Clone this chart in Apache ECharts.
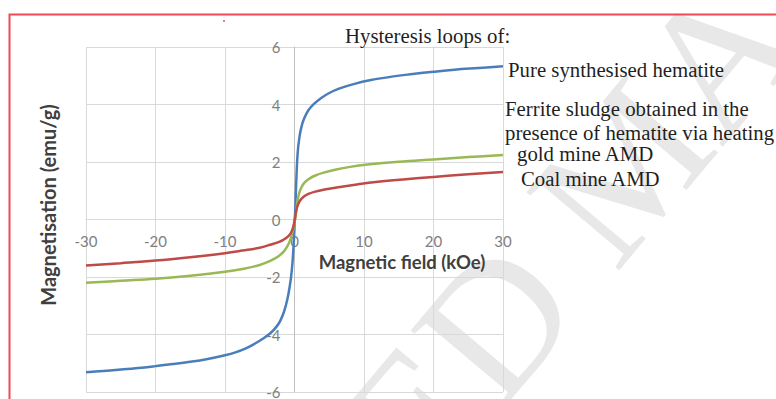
<!DOCTYPE html>
<html><head><meta charset="utf-8">
<script src="https://cdn.jsdelivr.net/npm/echarts@6/dist/echarts.min.js"></script>
<style>html,body{margin:0;padding:0;background:#fff}#c{width:776px;height:399px}</style>
</head><body><div id="c"></div>
<script>
// Tick labels
const xTicks = [-30, -20, -10, 0, 10, 20, 30];
const yTicks = [-6, -4, -2, 0, 2, 4, 6];

// Pure synthesised hematite
const hemField = [-30, -27.5, -25, -22.5, -20, -17.5, -15, -12.5, -10, -8.5, -7, -5.8, -4.5, -3.4, -2.5, -2.0, -1.5, -1.05, -0.7, -0.4, -0.15, 0.05, 0.25, 0.45, 0.7, 1.0, 1.4, 2.0, 2.8, 3.8, 5.0, 6.5, 8.5, 11, 14, 17, 20, 23, 26.5, 30];
const hemMag   = [-5.31, -5.27, -5.22, -5.165, -5.10, -5.03, -4.95, -4.85, -4.72, -4.62, -4.48, -4.33, -4.14, -3.94, -3.70, -3.50, -3.20, -2.80, -2.35, -1.80, -1.00, 0.00, 1.30, 2.30, 2.85, 3.22, 3.52, 3.80, 4.02, 4.22, 4.40, 4.56, 4.71, 4.85, 4.97, 5.06, 5.14, 5.21, 5.27, 5.33];

// Ferrite sludge ... gold mine AMD
const goldField = [-30, -25, -20, -15, -10, -7.5, -5, -3.5, -2.3, -1.5, -1.0, -0.6, -0.3, 0, 0.15, 0.35, 0.6, 1.0, 1.5, 2.2, 3.0, 4.2, 6, 8, 10.5, 15, 20, 25, 30];
const goldMag   = [-2.20, -2.13, -2.06, -1.96, -1.82, -1.72, -1.58, -1.44, -1.28, -1.10, -0.92, -0.70, -0.45, -0.10, 0.10, 0.50, 0.85, 1.12, 1.30, 1.43, 1.53, 1.63, 1.74, 1.83, 1.91, 2.01, 2.09, 2.17, 2.24];

// Coal mine AMD
const coalField = [-30, -25, -20, -15, -10, -7.5, -5, -3.5, -2.2, -1.3, -0.7, -0.3, 0, 0.2, 0.45, 0.8, 1.3, 2, 3, 4.5, 6.5, 9, 12, 16, 20, 25, 30];
const coalMag   = [-1.60, -1.52, -1.43, -1.31, -1.17, -1.08, -0.98, -0.88, -0.78, -0.66, -0.53, -0.35, -0.05, 0.25, 0.48, 0.66, 0.79, 0.89, 0.97, 1.05, 1.13, 1.22, 1.31, 1.40, 1.48, 1.57, 1.65];

const seriesNames = ['Pure synthesised hematite', 'Ferrite sludge obtained in the presence of hematite via heating gold mine AMD', 'Coal mine AMD'];

const pair = (xs, ys) => xs.map((x, i) => [x, ys[i]]);

const chart = echarts.init(document.getElementById('c'), null, {renderer: 'svg'});
const serif = '"Liberation Serif", "Times New Roman", serif';
const sans = 'Lato, "Open Sans", sans-serif';
const rot = 50 * Math.PI / 180;

// grid geometry
const G = {left: 86, right: 273, top: 47, bottom: 7};
const plotW = 776 - G.left - G.right;
const plotH = 399 - G.top - G.bottom;
const xZeroOff = plotW * (0 - xTicks[0]) / (xTicks[xTicks.length - 1] - xTicks[0]);
const yZeroOff = plotH * (0 - yTicks[0]) / (yTicks[yTicks.length - 1] - yTicks[0]);

const lineSeries = (name, data, color) => ({
  name, type: 'line', data, showSymbol: false, symbol: 'none',
  smooth: 0.4,
  lineStyle: {color, width: 2.5}, itemStyle: {color}, z: 3
});

const serifText = (text, x, y) => ({type: 'text', z: 50, x, y,
  style: {text, fontSize: 20.8, fontFamily: serif, fill: '#1f1f1f', align: 'left', verticalAlign: 'middle'}});

chart.setOption({
  backgroundColor: '#fff',
  animation: false,
  grid: Object.assign({containLabel: false, outerBoundsMode: 'none'}, G),
  xAxis: {
    type: 'value', position: 'bottom', offset: -yZeroOff,
    min: xTicks[0], max: xTicks[xTicks.length - 1], interval: xTicks[1] - xTicks[0],
    axisLine: {show: true, onZero: false, lineStyle: {color: '#d9d9d9', width: 1}},
    axisTick: {show: false},
    axisLabel: {color: '#808080', fontSize: 15, fontFamily: sans, margin: 14, showMinLabel: true, showMaxLabel: true, hideOverlap: false},
    splitLine: {show: true, lineStyle: {color: '#d9d9d9', width: 1}}
  },
  yAxis: {
    type: 'value', position: 'left', offset: -xZeroOff,
    min: yTicks[0], max: yTicks[yTicks.length - 1], interval: yTicks[1] - yTicks[0],
    axisLine: {show: true, onZero: false, lineStyle: {color: '#bfbfbf', width: 1}},
    axisTick: {show: false},
    axisLabel: {color: '#808080', fontSize: 15, fontFamily: sans, margin: 14, showMinLabel: true, showMaxLabel: true, hideOverlap: false},
    splitLine: {show: true, lineStyle: {color: '#d9d9d9', width: 1}}
  },
  series: [
    lineSeries(seriesNames[0], pair(hemField, hemMag), '#4a7ebb'),
    lineSeries(seriesNames[1], pair(goldField, goldMag), '#98b954'),
    lineSeries(seriesNames[2], pair(coalField, coalMag), '#be4b48')
  ],
  graphic: [
    {type: 'text', z: -10, rotation: rot, x: 538, y: 270,
      style: {text: 'ACCEPTED', fontSize: 185, fontFamily: serif, fill: '#e8e8e8', align: 'right', verticalAlign: 'middle'}},
    {type: 'text', z: -10, rotation: rot, x: 568, y: 234,
      style: {text: 'MANUSCRIPT', fontSize: 185, fontFamily: serif, fill: '#e8e8e8', align: 'left', verticalAlign: 'middle'}},
    {type: 'rect', z: 50, shape: {x: 9.5, y: 14.5, width: 900, height: 500},
      style: {fill: 'none', stroke: '#ef4a52', lineWidth: 2}},
    {type: 'rect', z: 50, shape: {x: 223, y: 20, width: 2, height: 2}, style: {fill: '#f07c84'}},
    serifText('Hysteresis loops of:', 345, 35),
    serifText('Pure synthesised hematite', 508, 69),
    serifText('Ferrite sludge obtained in the', 505, 108),
    serifText('presence of hematite via heating', 505, 132),
    serifText('gold mine AMD', 517, 153),
    serifText('Coal mine AMD', 521, 178),
    {type: 'text', z: 50, x: 402, y: 262,
      style: {text: 'Magnetic field (kOe)', fontSize: 18.5, fontWeight: 'bold', fontFamily: sans, fill: '#404040', align: 'center', verticalAlign: 'middle'}},
    {type: 'text', z: 50, x: 48, y: 205, rotation: Math.PI / 2,
      style: {text: 'Magnetisation (emu/g)', fontSize: 20, fontWeight: 'bold', fontFamily: sans, fill: '#404040', align: 'center', verticalAlign: 'middle'}}
  ]
});
</script>
</body></html>
